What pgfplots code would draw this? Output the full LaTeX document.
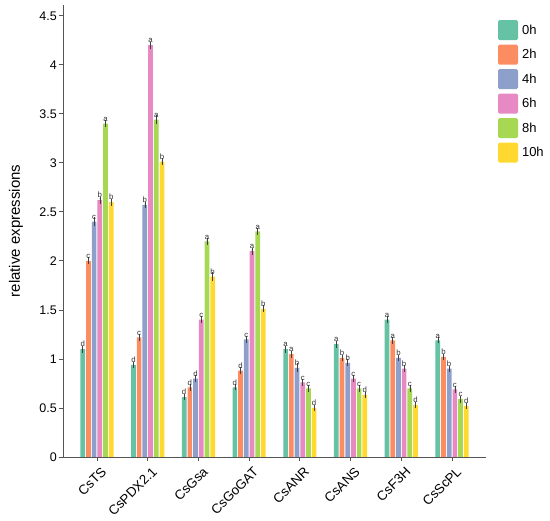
\documentclass[border=0pt]{standalone}
\usepackage{pgfplots}
\pgfplotsset{compat=1.18}
\usepackage{pgfplotstable}
\usepackage{fontspec}
\setmainfont{Liberation Sans}
\definecolor{c0}{HTML}{66C2A5}
\definecolor{c2}{HTML}{FC8D62}
\definecolor{c4}{HTML}{8DA0CB}
\definecolor{c6}{HTML}{E78AC3}
\definecolor{c8}{HTML}{A6D854}
\definecolor{c10}{HTML}{FFD92F}
\definecolor{axgray}{HTML}{555555}

\pgfplotstableread{
x y e l
0 1.10 0.02 d
1 0.94 0.015 d
2 0.61 0.015 d
3 0.71 0.015 d
4 1.10 0.02 a
5 1.15 0.02 a
6 1.40 0.02 a
7 1.19 0.015 a
}\tzero
\pgfplotstableread{
x y e l
0 2.00 0.02 c
1 1.22 0.02 c
2 0.71 0.02 d
3 0.88 0.02 d
4 1.05 0.02 a
5 1.01 0.02 b
6 1.19 0.02 a
7 1.02 0.015 b
}\ttwo
\pgfplotstableread{
x y e l
0 2.40 0.03 c
1 2.57 0.02 b
2 0.80 0.02 d
3 1.20 0.02 c
4 0.91 0.03 b
5 0.96 0.02 b
6 1.01 0.02 b
7 0.90 0.015 b
}\tfour
\pgfplotstableread{
x y e l
0 2.62 0.02 b
1 4.20 0.02 a
2 1.40 0.02 c
3 2.10 0.02 a
4 0.76 0.02 c
5 0.80 0.02 c
6 0.90 0.02 b
7 0.69 0.02 c
}\tsix
\pgfplotstableread{
x y e l
0 3.40 0.02 a
1 3.44 0.03 a
2 2.20 0.02 a
3 2.30 0.02 a
4 0.70 0.02 c
5 0.70 0.02 c
6 0.70 0.02 c
7 0.59 0.02 c
}\teight
\pgfplotstableread{
x y e l
0 2.60 0.02 b
1 3.01 0.02 b
2 1.84 0.03 b
3 1.51 0.02 b
4 0.50 0.02 d
5 0.63 0.015 d
6 0.53 0.015 d
7 0.52 0.015 d
}\tten

\begin{document}
\begin{tikzpicture}
\begin{axis}[
  at={(0pt,0pt)}, anchor=south west,
  scale only axis,
  width=423pt, height=452pt,
  xmin=-0.67, xmax=7.67,
  ymin=0, ymax=4.61,
  axis x line*=bottom, axis y line*=left,
  axis line style={axgray, line width=0.8pt, -},
  ybar=1pt, bar width=4.7pt,
  xtick={0,...,7},
  xticklabels={CsTS,CsPDX2.1,CsGsa,CsGoGAT,CsANR,CsANS,CsF3H,CsScPL},
  ytick={0,0.5,...,4.5},
  yticklabels={0,0.5,1,1.5,2,2.5,3,3.5,4,4.5},
  tick style={axgray, line width=0.8pt},
  major tick length=4pt,
  tick align=outside,
  xtick pos=bottom, ytick pos=left,
  xticklabel style={rotate=45, anchor=north east, font=\fontsize{13.3}{13.3}\selectfont, inner sep=1pt, yshift=-5pt, xshift=0pt},
  yticklabel style={font=\fontsize{12.5}{12.5}\selectfont, inner sep=2pt},
  ylabel={relative expressions},
  every axis y label/.style={at={(-47pt,226pt)}, rotate=90, anchor=center, font=\fontsize{15}{15}\selectfont},
  error bars/y dir=both, error bars/y explicit,
  error bars/error bar style={black!75, line width=0.5pt},
  error bars/error mark options={mark size=1.5pt, black!75, line width=0.5pt},
  nodes near coords,
  point meta=explicit symbolic,
  nodes near coords style={font=\fontsize{7.8}{7.8}\selectfont, text=black!80, anchor=south, inner sep=0.5pt, yshift=1.5pt, rotate=0},
  legend style={draw=none, fill=none, at={(1.028,0.967)}, anchor=north west,
    font=\fontsize{13}{13}\selectfont, row sep=4.5pt, inner sep=0pt,
    cells={anchor=west}, nodes={inner xsep=4pt}},
  legend image code/.code={\fill[#1, rounded corners=1.5pt] (0pt,-10pt) rectangle (20pt,10pt);},
  clip=false,
]
\addplot[fill=c0, draw=none] table[x=x, y=y, y error=e, meta=l] {\tzero};
\addplot[fill=c2, draw=none] table[x=x, y=y, y error=e, meta=l] {\ttwo};
\addplot[fill=c4, draw=none] table[x=x, y=y, y error=e, meta=l] {\tfour};
\addplot[fill=c6, draw=none] table[x=x, y=y, y error=e, meta=l] {\tsix};
\addplot[fill=c8, draw=none] table[x=x, y=y, y error=e, meta=l] {\teight};
\addplot[fill=c10, draw=none] table[x=x, y=y, y error=e, meta=l] {\tten};
\legend{0h,2h,4h,6h,8h,10h}
\end{axis}
\pgfresetboundingbox
\useasboundingbox (-63pt,-64pt) rectangle (487pt,457pt);
\end{tikzpicture}
\end{document}
